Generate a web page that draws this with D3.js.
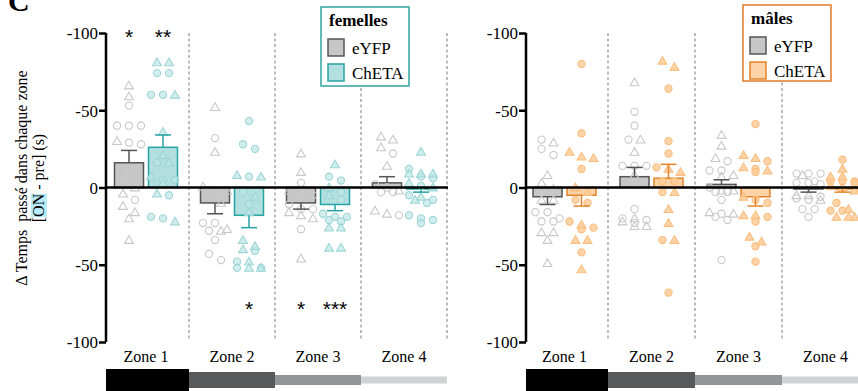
<!DOCTYPE html>
<html>
<head>
<meta charset="utf-8">
<script src="https://cdn.jsdelivr.net/npm/d3@7"></script>
<style>
  body { margin: 0; background: #fff; }
  svg { display: block; }
</style>
</head>
<body>
<svg id="chart" width="858" height="391"></svg>
<script>
var zones = ["Zone 1", "Zone 2", "Zone 3", "Zone 4"]
var tickValues = [100, 50, 0, -50, -100]
var tickLabels = ["-100", "-50", "0", "-50", "-100"]

// femelles
var femEyfpMean = [16, -10, -10, 3]
var femEyfpSem = [8, 7, 4, 4]
var femChetaMean = [26, -18, -11, -1]
var femChetaSem = [8, 8, 4, 2]
var femEyfpCircles = [[53, 40, 40, 40, 28, 29, 10, -8], [32, -23, -23, -28, -34, -43, -47], [3, -5, -14, -14, -11, -27], [22, 2, 0, -3, -3, -18]]
var femEyfpTriangles = [[66, 59, 30, 3, 0, -4, -12, -16, -20, -34], [52, 23, 0.5, -2, -2, -6, -10, -27, -28], [22, 10, -2, -3, -16, -18, -20, -46], [33, 31, 26, 14, -2, -15, -17]]
var femChetaCircles = [[74, 74, 60, 60, 16, 5, 5, -5, -19, -20], [43, 28, 25, 7, -3, -11, -41, -48, -52, -52], [7, 4.5, -3, -8, -17, -19, -19, -21, -22], [12, 7, 6, 1, -5, -8, -10, -18, -20, -21, -23]]
var femChetaTriangles = [[81, 81, 60, 36, 21, 16, 7, 3, -4, -22], [8, 7, -6, -16, -34, -38, -40, -48, -52, -52], [15, 0, -5, -26, -26, -39, -39], [23, 9, 9, 9, 3, 0, -6, -8]]
var femStars = [["*", "**"], ["", "*"], ["*", "***"], ["", ""]]

// mâles
var malEyfpMean = [-6, 7, 2, -1]
var malEyfpSem = [5, 6, 3, 2]
var malChetaMean = [-5, 6, -6, -1]
var malChetaSem = [7, 9, 6, 2]
var malEyfpCircles = [[31, 25, 21, -2, -2, -16, -16, -20, -22, -22], [49, 40, 31, 14, 14, 14, 3, -14, -20, -21, -23], [17, 11, 11, 0, -3, -3, -8, -17, -19, -21, -47], [9, 9, 9, 4, 3, 3, 2, -6, -7, -8, -14, -14, -19]]
var malEyfpTriangles = [[29, 8, 3, -1, -8, -8, -29, -29, -34, -49], [68, 31, 23, 8, -20, -22, -25, -25], [34, 27, 19, 8, 7, -2, -2, -16, -17], [8, -5, -5, -8]]
var malChetaCircles = [[80, 35, 12, -8, -10, -22, -26, -27, -42], [64, 30, 22, 13, 4, 4, -3, -34, -68], [41, 17, 12, 10, -8, -10, -19, -22, -38, -48], [18, 4, 4, 4, 3, -10, -15, -15]]
var malChetaTriangles = [[23, 20, 19, 0, -3, -24, -34, -34, -53], [82, 78, 12, 10, -3, -14, -23, -34], [21, 19, 13, 11, -6, -18, -18, -32, -35], [12, 7, 7, 1, 0, -2, -14, -19, -19, -19]]

var zoneColors = ["#000000", "#58595b", "#939598", "#d1d2d4"]
var zoneBarHeights = [22, 16, 10, 7]

var serif = "'Liberation Serif', 'Times New Roman', serif"

var svg = d3.select("#chart")

var y = d3.scaleLinear().domain([-100, 100]).range([342, 33])

var eyfpStyle = { fill: "#c6c6c6", stroke: "#555555", ptFill: "none", ptStroke: "#c8c8c8", ptOpacity: 1 }

var panels = [
  {
    axisX: 106, range: [103, 447], end: 448,
    eyfp: { mean: femEyfpMean, sem: femEyfpSem, circles: femEyfpCircles, triangles: femEyfpTriangles },
    cheta: { mean: femChetaMean, sem: femChetaSem, circles: femChetaCircles, triangles: femChetaTriangles },
    chetaStyle: { fill: "#b2dfdf", stroke: "#27a3a3", ptFill: "#bfe5e5", ptStroke: "#9dd6d6", ptOpacity: 0.7 },
    stars: femStars,
    legend: { x: 321, y: 7, w: 88, h: 79, title: "femelles", border: "#2fa5a0" }
  },
  {
    axisX: 526, range: [521, 869], end: 858,
    eyfp: { mean: malEyfpMean, sem: malEyfpSem, circles: malEyfpCircles, triangles: malEyfpTriangles },
    cheta: { mean: malChetaMean, sem: malChetaSem, circles: malChetaCircles, triangles: malChetaTriangles },
    chetaStyle: { fill: "#fbd3a7", stroke: "#e5832a", ptFill: "#fdcc98", ptStroke: "#fbbd80", ptOpacity: 0.85 },
    stars: null,
    legend: { x: 743, y: 5, w: 88, h: 76, title: "mâles", border: "#e07a26" }
  }
]

// spread points sharing the same height side by side, like prism does
function swarm(circles, triangles) {
  var pts = circles.map(v => ({ v: v, s: "o" })).concat(triangles.map(v => ({ v: v, s: "t" })))
  pts.sort((a, b) => b.v - a.v)
  var bins = []
  pts.forEach(p => {
    var last = bins[bins.length - 1]
    if (last && Math.abs(y(p.v) - y(last[0].v)) < 7 && last.length < 3) last.push(p)
    else bins.push([p])
  })
  bins.forEach(b => b.forEach((p, i) => { p.dx = (i - (b.length - 1) / 2) * 12 }))
  return pts
}

var triangle = d3.symbol().type(d3.symbolTriangle).size(34)

panels.forEach(function(pn) {
  var x = d3.scaleBand().domain(zones).range(pn.range)
  var g = svg.append("g")

  // dashed zone separators
  g.selectAll(".sep")
    .data(zones)
    .enter()
    .append("line")
    .attr("x1", d => x(d) + x.bandwidth())
    .attr("x2", d => x(d) + x.bandwidth())
    .attr("y1", y(100))
    .attr("y2", y(-100) - 2)
    .style("stroke", "#9a9a9a")
    .style("stroke-width", 1.3)
    .style("stroke-dasharray", "3,2.5")

  var groups = [
    { d: pn.eyfp, st: eyfpStyle, off: -17 },
    { d: pn.cheta, st: pn.chetaStyle, off: 17 }
  ]

  groups.forEach(function(gr) {
    zones.forEach(function(z, i) {
      var cx = x(z) + x.bandwidth() / 2 + gr.off
      var m = gr.d.mean[i], s = gr.d.sem[i]
      g.append("rect")
        .attr("x", cx - 14.5)
        .attr("width", 29)
        .attr("y", Math.min(y(m), y(0)))
        .attr("height", Math.abs(y(m) - y(0)))
        .style("fill", gr.st.fill)
        .style("stroke", gr.st.stroke)
        .style("stroke-width", 1.5)

      var pts = swarm(gr.d.circles[i], gr.d.triangles[i])
      g.selectAll(null)
        .data(pts.filter(p => p.s == "o"))
        .enter()
        .append("circle")
        .attr("cx", p => cx + p.dx)
        .attr("cy", p => y(p.v))
        .attr("r", 3.6)
        .style("fill", gr.st.ptFill)
        .style("fill-opacity", gr.st.ptOpacity)
        .style("stroke", gr.st.ptStroke)
        .style("stroke-width", 1.1)
      g.selectAll(null)
        .data(pts.filter(p => p.s == "t"))
        .enter()
        .append("path")
        .attr("d", triangle)
        .attr("transform", p => "translate(" + (cx + p.dx) + "," + (y(p.v) + 0.8) + ")")
        .style("fill", gr.st.ptFill)
        .style("fill-opacity", gr.st.ptOpacity)
        .style("stroke", gr.st.ptStroke)
        .style("stroke-width", 1.1)

      // error bar, away from zero
      var e = m >= 0 ? m + s : m - s
      g.append("line")
        .attr("x1", cx).attr("x2", cx)
        .attr("y1", y(m)).attr("y2", y(e))
        .style("stroke", gr.st.stroke).style("stroke-width", 1.5)
      g.append("line")
        .attr("x1", cx - 8).attr("x2", cx + 8)
        .attr("y1", y(e)).attr("y2", y(e))
        .style("stroke", gr.st.stroke).style("stroke-width", 1.5)

      if (pn.stars) {
        var st = pn.stars[i][gr.off < 0 ? 0 : 1]
        var top = i == 0
        g.append("text")
          .attr("x", cx)
          .attr("y", top ? 44 : 316)
          .attr("text-anchor", "middle")
          .style("font-family", "'Liberation Sans', Arial, sans-serif")
          .style("font-size", "21px")
          .text(st)
      }
    })
  })

  // zero line
  g.append("line")
    .attr("x1", pn.axisX).attr("x2", pn.end)
    .attr("y1", y(0)).attr("y2", y(0))
    .style("stroke", "#000").style("stroke-width", 2.5)

  // y axis
  var ax = g.append("g")
    .attr("transform", "translate(" + pn.axisX + ",0)")
    .call(d3.axisLeft(y).tickValues(tickValues).tickSize(7).tickFormat((d, i) => tickLabels[i]))
  ax.select(".domain").attr("d", "M0," + y(100) + "V" + y(-100)).style("stroke-width", 2.5)
  ax.selectAll(".tick line").style("stroke-width", 2.5)
  ax.selectAll(".tick text")
    .attr("x", -8)
    .attr("dy", "0.35em")
    .style("font-family", serif)
    .style("font-size", "17px")

  // zone labels
  g.selectAll(".zl")
    .data(zones)
    .enter()
    .append("text")
    .attr("x", d => x(d) + x.bandwidth() / 2)
    .attr("y", 362)
    .attr("text-anchor", "middle")
    .style("font-family", serif)
    .style("font-size", "16px")
    .text(d => d)

  // zone colour bars
  g.selectAll(".zb")
    .data(zones)
    .enter()
    .append("rect")
    .attr("x", (d, i) => i == 0 ? pn.axisX : x(d))
    .attr("width", (d, i) => i == 0 ? x(d) + x.bandwidth() - pn.axisX : x.bandwidth())
    .attr("y", (d, i) => 380 - zoneBarHeights[i] / 2)
    .attr("height", (d, i) => zoneBarHeights[i])
    .style("fill", (d, i) => zoneColors[i])

  // legend
  var lg = pn.legend
  var L = g.append("g").attr("transform", "translate(" + lg.x + "," + lg.y + ")")
  L.append("rect")
    .attr("width", lg.w).attr("height", lg.h)
    .style("fill", "#fff").style("stroke", lg.border).style("stroke-width", 1.5)
  L.append("text").attr("x", 8).attr("y", 19)
    .style("font-family", serif)
    .style("font-weight", "bold").style("font-size", "17px").text(lg.title)
  var items = [["eYFP", eyfpStyle], ["ChETA", pn.chetaStyle]]
  items.forEach(function(it, k) {
    L.append("rect")
      .attr("x", 7).attr("y", 32 + k * 25)
      .attr("width", 16).attr("height", 17)
      .style("fill", it[1].fill).style("stroke", it[1].stroke).style("stroke-width", 1.5)
    L.append("text").attr("x", 31).attr("y", 47 + k * 25)
      .style("font-family", serif)
      .style("font-size", "17px").text(it[0])
  })
})

// y axis title
var yt = svg.append("g").attr("transform", "translate(0,178) rotate(-90)")
yt.append("text")
  .attr("x", 0).attr("y", 27)
  .attr("text-anchor", "middle")
  .style("font-family", serif)
  .style("font-size", "16px")
  .style("white-space", "pre")
  .text("Δ Temps  passé dans chaque zone")
var line2 = yt.append("text")
  .attr("x", 0).attr("y", 44)
  .attr("text-anchor", "middle")
  .style("font-family", serif)
  .style("font-size", "16px")
  .text("[ON - pre] (s)")
var a = line2.node().getExtentOfChar(1), b = line2.node().getExtentOfChar(2)
yt.insert("rect", "text")
  .attr("x", a.x).attr("y", a.y + 1)
  .attr("width", b.x + b.width - a.x).attr("height", a.height - 1)
  .style("fill", "#b9ecfb")

// panel letter
svg.append("text")
  .attr("x", 8).attr("y", 11)
  .style("font-family", serif)
  .style("font-weight", "bold")
  .style("font-size", "30px")
  .text("C")
</script>
</body>
</html>
